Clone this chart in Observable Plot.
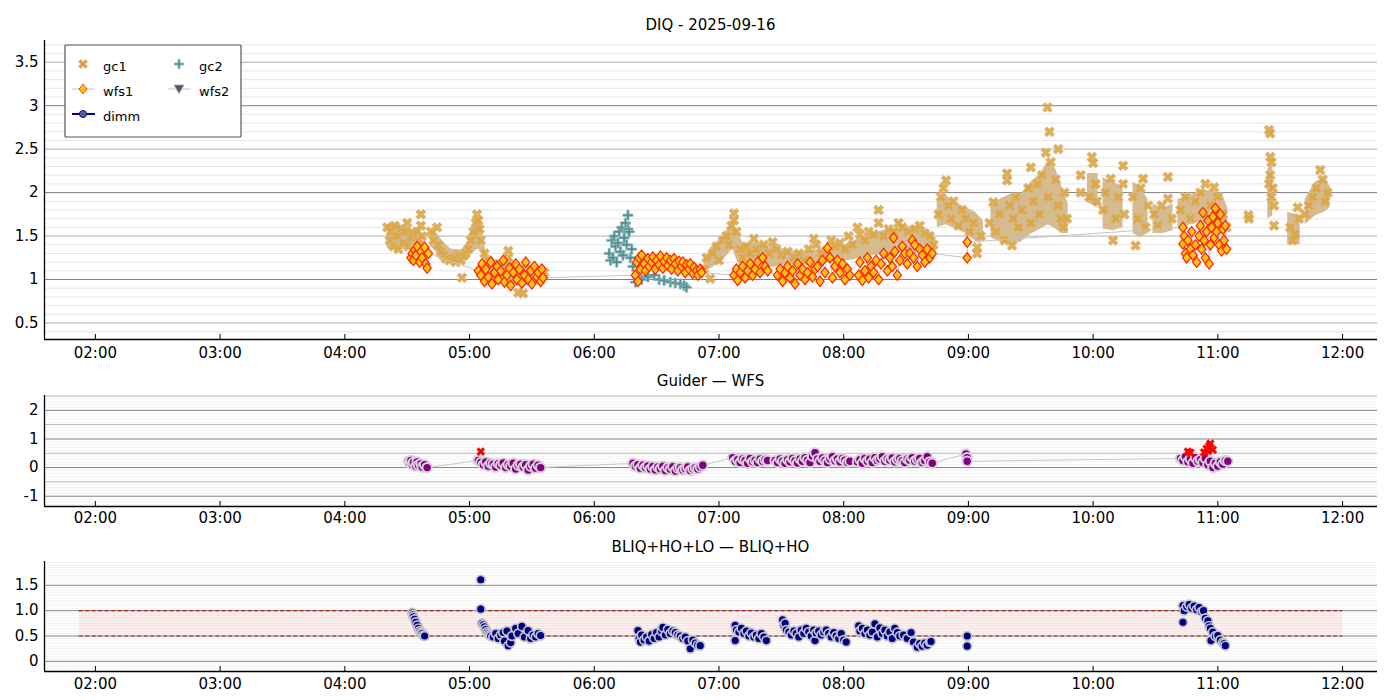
<!DOCTYPE html>
<html><head><meta charset="utf-8">
<script src="https://cdn.jsdelivr.net/npm/d3@7"></script>
<script src="https://cdn.jsdelivr.net/npm/@observablehq/plot@0.6"></script>
<style>
body{margin:0;background:#fff;font-family:"DejaVu Sans",sans-serif;}
#wrap{position:relative;width:1400px;height:700px;overflow:hidden;background:#fff;}
.title{position:absolute;left:44px;width:1333px;text-align:center;font-size:15px;line-height:18px;color:#000;font-family:"DejaVu Sans",sans-serif;}
.panel{position:absolute;left:0;}
</style></head><body><div id="wrap"></div>
<script>
// ---------- DATA (hours UTC, values) ----------
const titles = ["DIQ - 2025-09-16", "Guider \u2014 WFS", "BLIQ+HO+LO \u2014 BLIQ+HO"];
const hourTicks = [2,3,4,5,6,7,8,9,10,11,12];
const topTicks = [0.5,1,1.5,2,2.5,3,3.5];
const midTicks = [-1,0,1,2];
const botTicks = [0,0.5,1.0,1.5];
const legendNames = ["gc1","gc2","wfs1","wfs2","dimm"];

// gc1 dense body envelope: [hour, low, high, segment]
const gc1Band = [
[4.34,1.36,1.63,1],[4.41,1.33,1.64,1],[4.49,1.35,1.62,1],[4.54,1.40,1.57,1],[4.61,1.42,1.56,1],
[4.69,1.38,1.58,2],[4.73,1.32,1.55,2],[4.78,1.25,1.45,2],[4.85,1.21,1.35,2],[4.93,1.21,1.34,2],[4.98,1.24,1.40,2],[5.02,1.30,1.56,2],[5.07,1.35,1.72,2],[5.10,1.30,1.56,2],[5.14,1.12,1.26,2],[5.25,1.00,1.21,2],[5.41,0.92,1.16,2],[5.61,0.95,1.10,2],
[6.88,1.08,1.22,3],[6.93,1.12,1.36,3],[6.99,1.18,1.44,3],[7.05,1.25,1.54,3],[7.11,1.35,1.67,3],[7.15,1.20,1.56,3],[7.19,1.12,1.42,3],[7.25,1.14,1.42,3],[7.33,1.17,1.42,3],[7.40,1.14,1.37,3],[7.45,1.14,1.39,3],[7.53,1.17,1.34,3],[7.65,1.17,1.32,3],[7.77,1.19,1.34,3],[7.89,1.19,1.37,3],[8.01,1.21,1.40,3],[8.12,1.24,1.47,3],[8.21,1.27,1.52,3],[8.33,1.29,1.57,3],[8.46,1.31,1.60,3],[8.58,1.31,1.62,3],[8.68,1.29,1.57,3],[8.74,1.25,1.47,3],
[8.75,1.60,1.92,4],[8.82,1.63,1.97,4],[8.90,1.58,1.88,4],[8.98,1.53,1.83,4],[9.06,1.44,1.77,4],[9.12,1.44,1.67,4],
[9.18,1.48,1.83,5],[9.26,1.43,1.93,5],[9.34,1.41,1.98,5],[9.42,1.43,1.98,5],[9.50,1.52,2.12,5],[9.58,1.58,2.22,5],[9.64,1.63,2.37,5],[9.70,1.58,2.27,5],[9.75,1.53,2.07,5],[9.80,1.53,1.87,5],
[9.955,1.88,2.22,6],[10.04,1.83,2.22,6],
[10.08,1.58,2.17,7],[10.16,1.56,2.12,7],[10.24,1.60,2.07,7],
[10.32,1.53,2.12,8],[10.38,1.48,2.07,8],[10.44,1.53,1.92,8],
[10.48,1.53,1.87,9],[10.56,1.53,1.82,9],[10.64,1.56,1.87,9],
[10.68,1.58,1.92,10],[10.78,1.63,1.97,10],[10.86,1.66,2.02,10],[10.96,1.63,2.02,10],[11.04,1.58,1.97,10],[11.08,1.53,1.82,10],
[11.40,1.70,2.27,11],[11.44,1.73,2.32,11],
[11.56,1.40,1.77,12],[11.66,1.40,1.74,12],
[11.70,1.63,1.92,13],[11.78,1.73,2.12,13],[11.86,1.78,2.17,13],[11.90,1.83,2.07,13]
];

// gc1 individual markers [hour, value]
const gc1 = [
[4.34,1.60],[4.36,1.45],[4.37,1.55],[4.39,1.38],[4.40,1.62],[4.42,1.50],[4.43,1.35],[4.45,1.58],[4.47,1.42],[4.48,1.55],[4.50,1.65],[4.51,1.38],[4.53,1.48],[4.54,1.54],[4.55,1.52],[4.58,1.55],[4.59,1.45],[4.60,1.40],[4.61,1.75],[4.61,1.62],[4.62,1.50],
[4.69,1.55],[4.71,1.45],[4.74,1.60],[4.75,1.40],[4.77,1.32],[4.79,1.28],[4.81,1.24],[4.84,1.22],[4.87,1.25],[4.89,1.20],[4.91,1.28],[4.93,1.22],[4.94,1.02],[4.95,1.27],[4.97,1.30],[4.99,1.35],[5.01,1.45],[5.03,1.55],[5.05,1.65],[5.06,1.75],[5.07,1.68],[5.08,1.58],[5.09,1.45],[5.12,1.30],[5.15,1.22],[5.20,1.18],[5.25,1.15],[5.30,1.20],[5.31,1.33],[5.31,1.25],[5.36,1.15],[5.39,0.85],[5.43,0.84],[5.45,1.12],[5.50,1.10],[5.55,1.05],[5.60,1.08],
[6.88,1.12],[6.90,1.25],[6.93,1.01],[6.95,1.30],[6.98,1.38],[7.00,1.22],[7.03,1.45],[7.06,1.50],[7.08,1.40],[7.10,1.62],[7.12,1.76],[7.12,1.68],[7.14,1.55],[7.17,1.35],[7.19,1.25],[7.22,1.38],[7.25,1.30],[7.28,1.47],[7.30,1.35],[7.33,1.25],[7.36,1.40],[7.40,1.30],[7.43,1.43],[7.46,1.35],[7.50,1.28],[7.55,1.32],[7.60,1.25],[7.64,1.30],[7.68,1.22],[7.72,1.35],[7.76,1.47],[7.78,1.40],[7.82,1.30],[7.86,1.33],[7.90,1.45],[7.93,1.38],[7.97,1.42],[8.01,1.35],[8.04,1.50],[8.07,1.40],[8.11,1.60],[8.13,1.52],[8.17,1.45],[8.20,1.55],[8.24,1.52],[8.28,1.80],[8.28,1.65],[8.32,1.50],[8.36,1.58],[8.40,1.55],[8.44,1.65],[8.47,1.60],[8.52,1.55],[8.57,1.58],[8.61,1.62],[8.65,1.53],[8.69,1.50],[8.72,1.40],
[8.76,1.75],[8.78,1.95],[8.80,2.05],[8.82,2.14],[8.84,1.85],[8.86,1.70],[8.88,1.90],[8.92,1.62],[8.95,1.80],[8.98,1.70],[9.01,1.55],[9.04,1.65],[9.07,1.37],[9.07,1.30],[9.10,1.50],
[9.17,1.65],[9.20,1.89],[9.22,1.55],[9.25,1.75],[9.29,1.45],[9.31,2.22],[9.31,2.14],[9.33,1.85],[9.35,1.39],[9.36,1.70],[9.38,1.95],[9.40,1.60],[9.43,1.80],[9.48,2.05],[9.50,2.29],[9.50,1.65],[9.52,1.90],[9.55,2.10],[9.57,1.75],[9.59,2.20],[9.62,2.46],[9.634,2.98],[9.65,2.70],[9.64,1.95],[9.66,2.35],[9.70,2.15],[9.72,2.50],[9.72,1.85],[9.74,1.70],[9.76,1.60],[9.77,2.00],[9.79,1.70],
[9.90,2.20],[9.90,2.00],[9.97,1.95],[9.99,2.41],[10.00,2.34],[10.02,2.10],[10.03,1.90],
[10.08,1.80],[10.10,2.00],[10.14,2.16],[10.16,1.45],[10.18,1.70],[10.20,1.95],[10.24,2.31],[10.24,2.10],[10.25,1.75],
[10.32,1.95],[10.34,1.39],[10.36,1.70],[10.38,2.05],[10.40,2.16],[10.42,1.60],[10.44,1.85],
[10.49,1.75],[10.52,1.62],[10.55,1.85],[10.60,2.18],[10.60,1.93],[10.63,1.70],
[10.70,1.80],[10.74,1.95],[10.78,1.70],[10.82,1.90],[10.86,2.00],[10.90,2.10],[10.94,1.85],[10.97,2.06],[11.00,1.95],[11.04,1.75],[11.07,1.60],
[11.245,1.74],[11.25,1.70],
[11.41,2.72],[11.42,2.68],[11.42,2.41],[11.43,2.35],[11.42,2.20],[11.41,2.10],[11.44,2.05],[11.43,1.95],[11.45,1.85],[11.45,1.62],
[11.58,1.60],[11.60,1.45],[11.62,1.52],[11.64,1.83],[11.65,1.70],
[11.70,1.75],[11.73,1.85],[11.76,1.95],[11.79,2.05],[11.82,2.26],[11.84,2.15],[11.86,1.90],[11.88,2.00]
];

// gc2 markers
const gc2 = [
[6.12,1.30],[6.13,1.22],[6.14,1.45],[6.15,1.25],[6.16,1.50],[6.17,1.38],[6.18,1.20],[6.19,1.42],[6.20,1.55],[6.21,1.32],[6.22,1.60],[6.23,1.28],[6.24,1.48],[6.25,1.65],[6.26,1.40],[6.27,1.74],[6.27,1.58],[6.28,1.55],[6.29,1.25],[6.30,1.35],[6.31,1.15],
[6.33,0.97],[6.35,1.02],[6.38,1.00],[6.43,1.03],[6.48,1.05],[6.52,1.00],[6.56,0.99],[6.61,0.97],[6.65,0.96],[6.69,0.95],[6.72,0.93],[6.74,0.91]
];

// wfs1 markers (time ordered)
const wfs1 = [
[4.53,1.25],[4.54,1.30],[4.55,1.22],[4.56,1.34],[4.57,1.28],[4.58,1.38],[4.60,1.20],[4.61,1.32],[4.62,1.25],[4.64,1.37],[4.65,1.18],[4.66,1.13],[4.67,1.30],
[5.07,1.10],[5.09,1.05],[5.10,1.18],[5.12,0.98],[5.13,1.12],[5.15,1.03],[5.17,1.20],[5.18,0.95],[5.20,1.08],[5.22,1.15],[5.23,1.00],[5.25,1.10],[5.27,1.22],[5.28,0.97],[5.30,1.05],[5.32,1.13],[5.33,0.93],[5.35,1.08],[5.37,1.18],[5.38,1.00],[5.40,1.12],[5.42,0.96],[5.44,1.05],[5.45,1.20],[5.47,1.00],[5.49,1.10],[5.50,0.95],[5.52,1.15],[5.54,1.03],[5.55,1.08],[5.57,0.98],[5.58,1.12],[5.59,1.02],
[6.33,1.05],[6.34,1.20],[6.35,0.98],[6.36,1.25],[6.37,1.12],[6.38,1.28],[6.40,1.18],[6.41,1.10],[6.43,1.24],[6.44,1.15],[6.46,1.20],[6.47,1.26],[6.49,1.12],[6.50,1.22],[6.52,1.17],[6.53,1.27],[6.55,1.13],[6.56,1.21],[6.58,1.25],[6.59,1.16],[6.61,1.22],[6.62,1.12],[6.64,1.24],[6.65,1.18],[6.67,1.10],[6.68,1.21],[6.70,1.15],[6.71,1.20],[6.73,1.08],[6.74,1.17],[6.76,1.12],[6.77,1.18],[6.79,1.07],[6.80,1.14],[6.82,1.10],[6.83,1.05],[6.85,1.12],[6.86,1.08],
[7.12,1.05],[7.14,1.12],[7.15,0.99],[7.17,1.08],[7.19,1.15],[7.21,1.02],[7.23,1.10],[7.25,1.18],[7.27,1.05],[7.29,1.12],[7.31,1.20],[7.33,1.08],[7.35,1.25],[7.37,1.15],[7.39,1.10],
[7.47,1.05],[7.49,1.12],[7.51,0.98],[7.53,1.08],[7.55,1.15],[7.57,1.02],[7.59,1.10],[7.61,0.95],[7.63,1.18],[7.65,1.05],[7.67,1.12],[7.69,1.00],[7.71,1.08],[7.73,1.20],[7.75,1.03],[7.77,1.12],[7.79,1.15],[7.81,0.98],[7.83,1.22],[7.85,1.08],[7.87,1.36],[7.89,1.25],[7.91,1.02],[7.93,1.15],[7.95,1.22],[7.97,1.08],[7.99,1.18],[8.01,1.00],[8.03,1.12],[8.05,1.05],
[8.12,1.05],[8.13,1.20],[8.15,0.99],[8.17,1.10],[8.19,1.25],[8.20,1.02],[8.22,1.15],[8.24,1.08],[8.26,1.22],[8.28,1.00],[8.30,1.18],[8.32,1.30],[8.35,1.10],[8.37,1.25],[8.39,1.15],[8.40,1.48],[8.41,1.32],[8.43,1.05],[8.45,1.22],[8.47,1.38],[8.49,1.30],[8.51,1.18],[8.53,1.30],[8.55,1.45],[8.56,1.25],[8.57,1.40],[8.59,1.15],[8.61,1.35],[8.63,1.28],[8.65,1.20],[8.67,1.35],[8.69,1.25],[8.71,1.30],
[8.99,1.25],[8.99,1.43],
[10.72,1.60],[10.72,1.41],[10.73,1.50],[10.74,1.30],[10.75,1.25],[10.76,1.45],[10.78,1.35],[10.79,1.55],[10.80,1.28],[10.82,1.40],[10.83,1.20],[10.85,1.50],[10.86,1.62],[10.87,1.35],[10.88,1.77],[10.89,1.45],[10.90,1.25],[10.91,1.55],[10.92,1.68],[10.93,1.18],[10.94,1.40],[10.95,1.60],[10.96,1.72],[10.97,1.48],[10.98,1.82],[10.99,1.55],[11.00,1.65],[11.01,1.40],[11.02,1.75],[11.03,1.33],[11.04,1.58],[11.05,1.45],[11.06,1.62],[11.07,1.35]
];

// Guider - WFS difference
const diff = [
[4.51,0.22],[4.52,0.15],[4.53,0.25],[4.54,0.10],[4.55,0.18],[4.57,0.05],[4.58,0.20],[4.59,0.08],[4.61,0.14],[4.62,0.02],[4.64,0.10],[4.66,0.00],
[5.07,0.25],[5.09,0.18],[5.11,0.10],[5.13,0.20],[5.15,0.05],[5.17,0.15],[5.19,0.12],[5.21,0.02],[5.23,0.14],[5.25,0.08],[5.27,0.16],[5.29,0.00],[5.31,0.10],[5.33,0.05],[5.35,0.15],[5.37,-0.05],[5.39,0.08],[5.41,0.12],[5.43,0.02],[5.45,0.10],[5.47,-0.08],[5.49,0.05],[5.51,0.12],[5.53,-0.02],[5.55,0.08],[5.57,0.00],
[6.31,0.15],[6.33,0.05],[6.35,0.10],[6.37,-0.02],[6.39,0.08],[6.41,0.00],[6.43,0.06],[6.45,-0.05],[6.47,0.04],[6.49,-0.08],[6.51,0.02],[6.53,-0.04],[6.55,0.05],[6.57,-0.10],[6.59,0.00],[6.61,-0.06],[6.63,0.03],[6.65,-0.12],[6.67,-0.02],[6.69,0.00],[6.71,-0.08],[6.73,-0.03],[6.75,0.02],[6.77,-0.10],[6.79,-0.04],[6.81,0.00],[6.83,-0.05],[6.85,0.02],[6.87,0.08],
[7.11,0.35],[7.13,0.22],[7.15,0.28],[7.17,0.18],[7.19,0.30],[7.21,0.25],[7.23,0.15],[7.25,0.32],[7.27,0.20],[7.29,0.26],[7.31,0.18],[7.33,0.30],[7.35,0.22],[7.37,0.28],[7.39,0.25],
[7.45,0.25],[7.47,0.18],[7.49,0.30],[7.51,0.22],[7.53,0.15],[7.55,0.28],[7.57,0.20],[7.59,0.32],[7.61,0.24],[7.63,0.16],[7.65,0.30],[7.67,0.22],[7.69,0.35],[7.71,0.26],[7.73,0.18],[7.75,0.40],[7.77,0.52],[7.79,0.30],[7.81,0.22],[7.83,0.34],[7.85,0.25],[7.87,0.18],[7.89,0.30],[7.91,0.38],[7.93,0.24],[7.95,0.30],[7.97,0.20],[7.99,0.32],[8.01,0.26],[8.03,0.18],[8.05,0.22],
[8.11,0.20],[8.13,0.28],[8.15,0.15],[8.17,0.32],[8.19,0.22],[8.21,0.30],[8.23,0.18],[8.25,0.35],[8.27,0.25],[8.29,0.30],[8.31,0.38],[8.33,0.22],[8.35,0.30],[8.37,0.26],[8.39,0.34],[8.41,0.20],[8.43,0.28],[8.45,0.32],[8.47,0.24],[8.49,0.18],[8.51,0.30],[8.53,0.26],[8.55,0.35],[8.57,0.22],[8.59,0.28],[8.61,0.32],[8.63,0.18],[8.65,0.25],[8.67,0.38],[8.69,0.20],[8.71,0.15],
[8.98,0.48],[8.99,0.35],[8.99,0.22],
[10.70,0.32],[10.72,0.25],[10.74,0.38],[10.76,0.20],[10.78,0.30],[10.80,0.15],[10.82,0.35],[10.84,0.22],[10.86,0.28],[10.88,0.18],[10.90,0.32],[10.92,0.10],[10.94,0.22],[10.96,0.00],[10.98,0.15],[11.00,0.05],[11.02,0.20],[11.04,0.12],[11.06,0.25],[11.08,0.22]
];
const diffOut = [[5.09,0.56],[10.76,0.56],[10.78,0.52],[10.89,0.53],[10.91,0.66],[10.92,0.58],[10.93,0.75],[10.94,0.84],[10.96,0.62]];

// BLIQ+HO+LO - BLIQ+HO
const bliq = [
[4.54,0.96],[4.545,0.92],[4.55,0.88],[4.56,0.83],[4.57,0.77],[4.58,0.71],[4.59,0.65],[4.60,0.60],[4.61,0.57],[4.62,0.55],[4.63,0.51],[4.64,0.50],
[5.09,1.61],[5.09,1.03],[5.10,0.75],[5.11,0.72],[5.12,0.68],[5.13,0.63],[5.14,0.58],[5.15,0.55],[5.16,0.52],[5.17,0.50],[5.19,0.48],[5.21,0.55],[5.23,0.45],[5.25,0.52],[5.27,0.57],[5.28,0.40],[5.30,0.60],[5.31,0.31],[5.33,0.37],[5.34,0.50],[5.37,0.65],[5.39,0.55],[5.42,0.69],[5.44,0.48],[5.47,0.61],[5.49,0.45],[5.51,0.52],[5.53,0.48],[5.55,0.55],[5.57,0.51],
[6.35,0.61],[6.36,0.45],[6.37,0.38],[6.38,0.52],[6.40,0.42],[6.42,0.48],[6.44,0.40],[6.46,0.53],[6.48,0.45],[6.50,0.57],[6.52,0.48],[6.54,0.60],[6.55,0.67],[6.57,0.52],[6.59,0.63],[6.61,0.55],[6.63,0.60],[6.65,0.57],[6.67,0.52],[6.69,0.50],[6.71,0.45],[6.73,0.48],[6.75,0.40],[6.77,0.25],[6.79,0.42],[6.81,0.36],[6.83,0.32],[6.85,0.31],
[7.13,0.71],[7.13,0.41],[7.14,0.62],[7.16,0.58],[7.18,0.65],[7.20,0.55],[7.22,0.60],[7.24,0.50],[7.26,0.56],[7.28,0.48],[7.30,0.52],[7.32,0.45],[7.34,0.55],[7.36,0.48],[7.38,0.41],
[7.51,0.82],[7.52,0.71],[7.53,0.75],[7.54,0.62],[7.56,0.58],[7.58,0.52],[7.60,0.60],[7.62,0.55],[7.64,0.48],[7.66,0.62],[7.68,0.55],[7.70,0.65],[7.72,0.58],[7.74,0.50],[7.76,0.62],[7.77,0.41],[7.78,0.56],[7.80,0.60],[7.82,0.52],[7.84,0.58],[7.86,0.62],[7.88,0.55],[7.90,0.48],[7.92,0.57],[7.94,0.50],[7.96,0.45],[7.98,0.55],[8.00,0.42],[8.02,0.38],
[8.12,0.70],[8.13,0.60],[8.15,0.65],[8.17,0.55],[8.19,0.62],[8.21,0.52],[8.23,0.58],[8.25,0.74],[8.27,0.48],[8.29,0.66],[8.31,0.55],[8.33,0.62],[8.35,0.50],[8.37,0.58],[8.39,0.45],[8.41,0.65],[8.43,0.57],[8.45,0.50],[8.48,0.52],[8.51,0.45],[8.54,0.57],[8.56,0.38],[8.59,0.28],[8.61,0.35],[8.63,0.30],[8.65,0.36],[8.67,0.32],[8.69,0.38],[8.70,0.39],
[8.99,0.50],[8.99,0.30],
[10.72,1.10],[10.72,0.77],[10.73,1.00],[10.75,1.08],[10.77,1.12],[10.79,1.05],[10.81,1.09],[10.83,1.02],[10.85,1.06],[10.87,0.98],[10.885,1.00],[10.90,0.85],[10.92,0.80],[10.93,0.70],[10.94,0.65],[10.945,0.41],[10.96,0.58],[10.98,0.50],[11.00,0.51],[11.02,0.42],[11.04,0.37],[11.05,0.35],[11.06,0.31]
];
const bandHours = [1.87, 12.0];
const bandLimits = [0.5, 1.0];

// ---------- helpers ----------
const T = h => new Date(Date.UTC(2025, 8, 16) + h * 3600e3);
const X0 = T(1.592), X1 = T(12.28);
const tickDates = hourTicks.map(T);
const fmt = d3.utcFormat("%H:%M");
const FONT = "DejaVu Sans";

const symX = {draw(ctx, size){
  const s = Math.sqrt(size), l = s*0.6, w = s*0.2, c = Math.SQRT1_2;
  const pts = [[-w,-l],[w,-l],[w,-w],[l,-w],[l,w],[w,w],[w,l],[-w,l],[-w,w],[-l,w],[-l,-w],[-w,-w]];
  pts.forEach(([x,y],i)=>{const X=(x-y)*c, Y=(x+y)*c; i?ctx.lineTo(X,Y):ctx.moveTo(X,Y);});
  ctx.closePath();
}};
const symD = {draw(ctx, size){
  const s = Math.sqrt(size), h = s*0.62, w = h*0.8;
  ctx.moveTo(0,-h); ctx.lineTo(w,0); ctx.lineTo(0,h); ctx.lineTo(-w,0); ctx.closePath();
}};
const symP = {draw(ctx, size){
  const s = Math.sqrt(size), l = s*0.6, w = s*0.14;
  const pts = [[-w,-l],[w,-l],[w,-w],[l,-w],[l,w],[w,w],[w,l],[-w,l],[-w,w],[-l,w],[-l,-w],[-w,-w]];
  pts.forEach(([x,y],i)=> i?ctx.lineTo(x,y):ctx.moveTo(x,y));
  ctx.closePath();
}};
const symV = {draw(ctx, size){
  const s = Math.sqrt(size)*0.62;
  ctx.moveTo(-s,-s*0.8); ctx.lineTo(s,-s*0.8); ctx.lineTo(0,s*0.9); ctx.closePath();
}};

function grid(lo, hi, step, skip){
  const out = [];
  for (let i = Math.ceil(lo/step); i <= Math.floor(hi/step); i++) {
    const v = +(i*step).toFixed(4);
    if (!skip(v)) out.push(v);
  }
  return out;
}
const isMult = (v, m) => Math.abs(v/m - Math.round(v/m)) < 1e-6;

function frameMarks(yMin, tickLenData, yTicks, yFmt, pad){
  return [
    Plot.ruleX(tickDates, {x: d => d, y1: () => yMin, y2: () => yMin + tickLenData, stroke: "black", strokeWidth: 1}),
    Plot.ruleY([yMin], {stroke: "black", strokeWidth: 1.3}),
    Plot.ruleX([X0], {stroke: "black", strokeWidth: 1.3}),
    Plot.axisY({ticks: yTicks, tickSize: 0, tickPadding: 6, tickFormat: yFmt, fontSize: 15}),
    Plot.axisX({ticks: tickDates, tickSize: 0, tickPadding: pad, tickFormat: fmt, fontSize: 15})
  ];
}
const baseStyle = {fontFamily: FONT, fontSize: "15px", background: "transparent", overflow: "visible", color: "black"};

// ---------- Panel 1 ----------
const y1D = [0.31, 3.75];
const p1 = Plot.plot({
  width: 1400, height: 370, marginTop: 40, marginBottom: 31, marginLeft: 44, marginRight: 23,
  style: baseStyle,
  x: {type: "utc", domain: [X0, X1]},
  y: {domain: y1D},
  marks: [
    Plot.ruleY(grid(0.35, 3.74, 0.1, v => isMult(v, 0.5)), {stroke: "#e0e0e0", strokeWidth: 0.8}),
    Plot.ruleY(grid(0.35, 3.74, 0.5, v => isMult(v, 1)), {stroke: "#b0b0b0", strokeWidth: 1}),
    Plot.ruleY(grid(0.35, 3.74, 1, v => false), {stroke: "#808080", strokeWidth: 1}),
    Plot.areaY(gc1Band, {x: d => T(d[0]), y1: d => d[1], y2: d => d[2], z: d => d[3], fill: "#d6bb8f", curve: "linear"}),
    Plot.dot(gc2, {x: d => T(d[0]), y: d => d[1], symbol: symP, r: 4.8, fill: "#4f9196", stroke: "#a6c4c6", strokeWidth: 0.6}),
    Plot.dot(gc1, {x: d => T(d[0]), y: d => d[1], symbol: symX, r: 4.9, fill: "#e0a538", fillOpacity: 0.9, stroke: "#d3b68a", strokeWidth: 0.9}),
    Plot.line(wfs1, {x: d => T(d[0]), y: d => d[1], stroke: "#c4c4c4", strokeWidth: 1}),
    Plot.dot(wfs1, {x: d => T(d[0]), y: d => d[1], symbol: symD, r: 4.7, fill: "#ffc414", stroke: "#ff2200", strokeWidth: 1.2}),
    ...frameMarks(y1D[0], 5/86.7, topTicks, d => String(d), 8)
  ]
});

// ---------- Panel 2 ----------
const y2D = [-1.36, 2.52];
const p2 = Plot.plot({
  width: 1400, height: 160, marginTop: 25, marginBottom: 24, marginLeft: 44, marginRight: 23,
  style: baseStyle,
  x: {type: "utc", domain: [X0, X1]},
  y: {domain: y2D},
  marks: [
    Plot.ruleY(grid(-1.35, 2.51, 0.1, v => isMult(v, 0.5)), {stroke: "#ececec", strokeWidth: 0.7}),
    Plot.ruleY(grid(-1.35, 2.51, 0.5, v => isMult(v, 1)), {stroke: "#b4b4b4", strokeWidth: 1}),
    Plot.ruleY(grid(-1.35, 2.51, 1, v => false), {stroke: "#808080", strokeWidth: 1}),
    Plot.line(diff, {x: d => T(d[0]), y: d => d[1], stroke: "#c8c8c8", strokeWidth: 1}),
    Plot.dot(diff, {x: d => T(d[0]), y: d => d[1], r: 4.7, fill: "#800080", stroke: "#dccfdc", strokeWidth: 2}),
    Plot.dot(diffOut, {x: d => T(d[0]), y: d => d[1], symbol: symX, r: 4.3, fill: "#ff0000", stroke: "none"}),
    ...frameMarks(y2D[0], 5/28.5, midTicks, d => d < 0 ? "-" + (-d) : String(d), 6)
  ]
});

// ---------- Panel 3 ----------
const y3D = [-0.2, 1.97];
const p3 = Plot.plot({
  width: 1400, height: 170, marginTop: 31, marginBottom: 29, marginLeft: 44, marginRight: 23,
  style: baseStyle,
  x: {type: "utc", domain: [X0, X1]},
  y: {domain: y3D},
  marks: [
    Plot.ruleY(grid(-0.19, 1.96, 0.05, v => isMult(v, 0.5)), {stroke: "#ececec", strokeWidth: 0.7}),
    Plot.ruleY(grid(-0.19, 1.96, 0.5, v => false), {stroke: "#858585", strokeWidth: 1}),
    Plot.rect([bandLimits], {x1: () => T(bandHours[0]), x2: () => T(bandHours[1]), y1: d => d[0], y2: d => d[1], fill: "#ff0000", fillOpacity: 0.06}),
    Plot.ruleY(bandLimits, {x1: () => T(bandHours[0]), x2: () => T(bandHours[1]), stroke: "#a01818", strokeWidth: 1.2, strokeDasharray: "4,2.5"}),
    Plot.dot(bliq, {x: d => T(d[0]), y: d => d[1], r: 4.4, fill: "#000080", stroke: "#c4c4d0", strokeWidth: 1.7}),
    ...frameMarks(y3D[0], 5/50.7, botTicks, d => d === 0 ? "0" : d.toFixed(1), 7)
  ]
});

// ---------- assemble ----------
const wrap = document.getElementById("wrap");
[[p1, 0], [p2, 370], [p3, 530]].forEach(([p, top]) => {
  p.classList.add("panel"); p.style.top = top + "px"; wrap.appendChild(p);
});
[[titles[0], 16], [titles[1], 372], [titles[2], 538]].forEach(([t, top]) => {
  const d = document.createElement("div"); d.className = "title"; d.style.top = top + "px"; d.textContent = t; wrap.appendChild(d);
});

// legend
const lg = d3.select(wrap).append("svg").attr("width", 180).attr("height", 96)
  .style("position", "absolute").style("left", "64px").style("top", "44px")
  .style("font-family", FONT).style("font-size", "13px");
lg.append("rect").attr("x", 1).attr("y", 1).attr("width", 176).attr("height", 92)
  .attr("fill", "white").attr("stroke", "#555").attr("stroke-width", 1.2).attr("rx", 1);
const items = [
  {name: legendNames[0], x: 19, y: 20, sym: symX, fill: "#e2a63a", stroke: "#d3b68a", line: null},
  {name: legendNames[1], x: 115, y: 20, sym: symP, fill: "#4f9196", stroke: "#a6c4c6", line: null},
  {name: legendNames[2], x: 19, y: 45, sym: symD, fill: "#ffc414", stroke: "#ff3000", line: "#d8d8d8", lw: 1.5},
  {name: legendNames[3], x: 115, y: 45, sym: symV, fill: "#555566", stroke: "#9a9aa8", line: "#d8d8d8", lw: 1.5},
  {name: legendNames[4], x: 19, y: 70, sym: d3.symbolCircle, fill: "#5a6080", stroke: "#0a0a8a", line: "#0000aa", lw: 2}
];
items.forEach(it => {
  if (it.line) lg.append("line").attr("x1", it.x - 11).attr("x2", it.x + 12).attr("y1", it.y).attr("y2", it.y)
    .attr("stroke", it.line).attr("stroke-width", it.lw);
  lg.append("path").attr("d", d3.symbol(it.sym, it.sym === d3.symbolCircle ? 40 : 62)())
    .attr("transform", `translate(${it.x},${it.y})`).attr("fill", it.fill).attr("stroke", it.stroke).attr("stroke-width", 0.9);
  lg.append("text").attr("x", it.x + 20).attr("y", it.y + 6.5).text(it.name);
});
</script></body></html>
